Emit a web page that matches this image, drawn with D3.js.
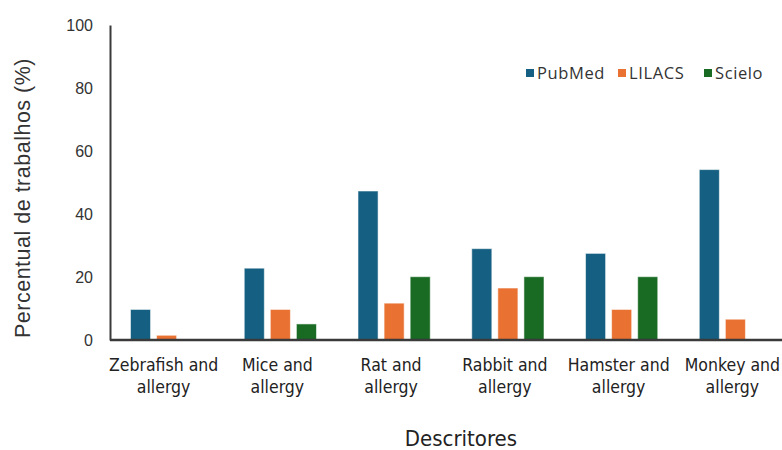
<!DOCTYPE html>
<html><head><meta charset="utf-8">
<script src="https://cdn.jsdelivr.net/npm/d3@7"></script>
<style>body{margin:0;background:#fff}svg{display:block}</style>
</head><body>
<svg id="c" width="782" height="450"></svg>
<script>
const categories = [["Zebrafish and","allergy"],["Mice and","allergy"],["Rat and","allergy"],["Rabbit and","allergy"],["Hamster and","allergy"],["Monkey and","allergy"]];
const seriesNames = ["PubMed","LILACS","Scielo"];
const pubmed = [9.7, 22.8, 47.3, 29.0, 27.5, 54.1];
const lilacs = [1.5, 9.7, 11.7, 16.5, 9.7, 6.6];
const scielo = [0, 5.1, 20.1, 20.1, 20.1, 0];
const colors = ["#156082","#E97132","#196B24"];
const yTicks = [0,20,40,60,80,100];

const svg = d3.select("#c");
const catKeys = categories.map(c => c.join(" "));
const values = [pubmed, lilacs, scielo];
const data = catKeys.map((k,i) => ({cat:k, vals: seriesNames.map((s,j)=>({s, v: values[j][i]}))}));

const x0 = d3.scaleBand().domain(catKeys).range([110, 792]).paddingInner(0.365).paddingOuter(0.18);
const x1 = d3.scaleBand().domain(seriesNames).range([0, x0.bandwidth()]).paddingInner(0.23).paddingOuter(0);
const y = d3.scaleLinear().domain([0,100]).range([340, 25]);
const color = d3.scaleOrdinal().domain(seriesNames).range(colors);

// bars
const g = svg.append("g");
g.selectAll("g.grp").data(data).join("g").attr("class","grp")
 .attr("transform", d => `translate(${x0(d.cat)},0)`)
 .selectAll("rect").data(d => d.vals.filter(e => e.v > 0)).join("rect")
 .attr("x", d => x1(d.s)).attr("width", x1.bandwidth())
 .attr("y", d => y(d.v)).attr("height", d => y(0) - y(d.v))
 .attr("fill", d => color(d.s))
 .attr("stroke", "#ffffff").attr("stroke-opacity", 0.55).attr("stroke-width", 1);

// y axis
const yAxis = d3.axisLeft(y).tickValues(yTicks).tickSize(0).tickPadding(17);
const ya = svg.append("g").attr("transform","translate(110,0)").call(yAxis);
ya.select(".domain").attr("stroke","#3a3a3a").attr("stroke-width",2);
ya.selectAll("text").attr("font-family","'Liberation Sans', Arial, sans-serif").attr("font-size",16).attr("fill","#333");

// x axis
const xa = svg.append("g").attr("transform","translate(0,340)")
  .call(d3.axisBottom(x0).tickSize(0).tickFormat(""));
xa.select(".domain").attr("d","M110,0H782").attr("stroke","#3a3a3a").attr("stroke-width",2.5);
xa.selectAll(".tick").each(function(d,i){
  const t = d3.select(this).append("text").attr("fill","#222")
    .attr("font-family","'Liberation Sans Narrow','DejaVu Sans Condensed',sans-serif")
    .attr("font-size",17.5).attr("text-anchor","middle");
  categories[i].forEach((line,k)=>{
    t.append("tspan").attr("x",-3).attr("y", 31 + k*22).text(line);
  });
});

// axis titles
svg.append("text").attr("transform","translate(30,198) rotate(-90)")
  .attr("text-anchor","middle").attr("font-family","'Liberation Sans', Arial, sans-serif")
  .attr("font-size",21.5).attr("letter-spacing",0.5).attr("fill","#333").text("Percentual de trabalhos (%)");
svg.append("text").attr("x",461).attr("y",446).attr("text-anchor","middle")
  .attr("font-family","'Liberation Sans Narrow','DejaVu Sans Condensed',sans-serif")
  .attr("font-size",22).attr("fill","#222").text("Descritores");

// legend
const legX = [526, 618, 704];
const leg = svg.append("g").selectAll("g").data(seriesNames).join("g")
  .attr("transform",(d,i)=>`translate(${legX[i]},73)`);
leg.append("rect").attr("x",0).attr("y",-4).attr("width",8).attr("height",8).attr("fill",d=>color(d));
leg.append("text").attr("x",11).attr("y",6).attr("font-family","'Open Sans', sans-serif")
  .attr("font-size",16.5).attr("letter-spacing",0.6).attr("fill","#333").text(d=>d);
</script>
</body></html>
